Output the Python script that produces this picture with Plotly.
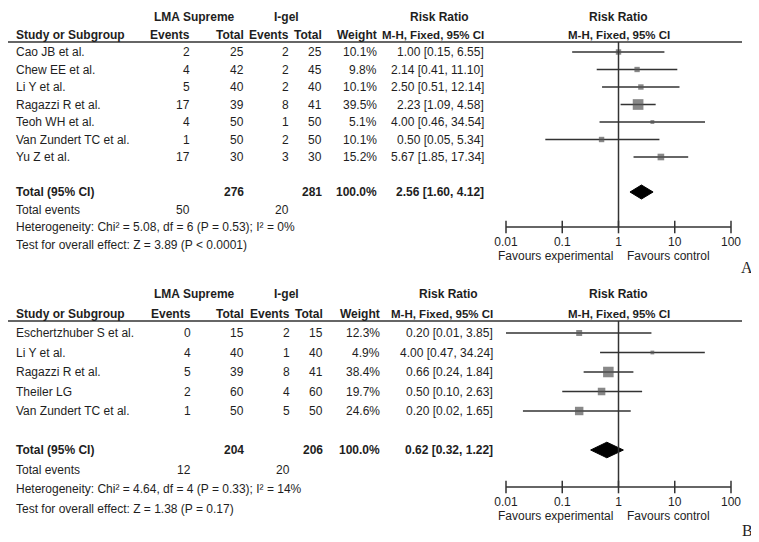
import plotly.graph_objects as go

W, H = 759, 542
OFF = 8  # the page body adds an 8px margin around the figure

TEXT = "#1e1e1e"
LINE = "#333333"
BOX = "#555555"
FONT = "Liberation Sans, Arial, sans-serif"

# ---- panel A data ----
a_studies = ["Cao JB et al.", "Chew EE et al.", "Li Y et al.", "Ragazzi R et al.",
             "Teoh WH et al.", "Van Zundert TC et al.", "Yu Z et al."]
a_lma_events = [2, 4, 5, 17, 4, 1, 17]
a_lma_total = [25, 42, 40, 39, 50, 50, 30]
a_igel_events = [2, 2, 2, 8, 1, 2, 3]
a_igel_total = [25, 45, 40, 41, 50, 50, 30]
a_weight = [10.1, 9.8, 10.1, 39.5, 5.1, 10.1, 15.2]
a_rr = [1.00, 2.14, 2.50, 2.23, 4.00, 0.50, 5.67]
a_lo = [0.15, 0.41, 0.51, 1.09, 0.46, 0.05, 1.85]
a_hi = [6.55, 11.10, 12.14, 4.58, 34.54, 5.34, 17.34]
a_sum_n = [276, 281]
a_sum_events = [50, 20]
a_sum_weight = 100.0
a_pooled = [2.56, 1.60, 4.12]
a_het = "Heterogeneity: Chi² = 5.08, df = 6 (P = 0.53); I² = 0%"
a_test = "Test for overall effect: Z = 3.89 (P < 0.0001)"

# ---- panel B data ----
b_studies = ["Eschertzhuber S et al.", "Li Y et al.", "Ragazzi R et al.",
             "Theiler LG", "Van Zundert TC et al."]
b_lma_events = [0, 4, 5, 2, 1]
b_lma_total = [15, 40, 39, 60, 50]
b_igel_events = [2, 1, 8, 4, 5]
b_igel_total = [15, 40, 41, 60, 50]
b_weight = [12.3, 4.9, 38.4, 19.7, 24.6]
b_rr = [0.20, 4.00, 0.66, 0.50, 0.20]
b_lo = [0.01, 0.47, 0.24, 0.10, 0.02]
b_hi = [3.85, 34.24, 1.84, 2.63, 1.65]
b_sum_n = [204, 206]
b_sum_events = [12, 20]
b_sum_weight = 100.0
b_pooled = [0.62, 0.32, 1.22]
b_het = "Heterogeneity: Chi² = 4.64, df = 4 (P = 0.33); I² = 14%"
b_test = "Test for overall effect: Z = 1.38 (P = 0.17)"

tick_vals = [0.01, 0.1, 1, 10, 100]
tick_text = ["0.01", "0.1", "1", "10", "100"]

fig = go.Figure()


def note(text, x, y, yref, anchor="left", bold=False, xref="paper", size=12, family=FONT, xshift=0):
    if bold:
        text = f"<b>{text}</b>"
    if xref == "paper":
        x = (x - OFF) / W
    fig.add_annotation(text=text, x=x, y=y, xref=xref, yref=yref, xanchor=anchor,
                       yanchor="middle", showarrow=False, xshift=xshift,
                       font=dict(family=family, size=size, color=TEXT))


def panel(yname, top, step, studies, le, ln, ie, inn, weight, rr, lo, hi,
          sum_n, sum_ev, sum_w, pooled, het, test, letter, cols):
    yref = yname
    n = len(studies)
    rows = list(range(n))
    tot_row = n + 1
    axis_row = tot_row + 2 + cols["axis"] / step
    xa = "x"
    ya = yname

    # headers
    note("LMA Supreme", cols["lma_c"], -2, yref, "center", True)
    note("I-gel", cols["igel_c"], -2, yref, "center", True)
    note("Risk Ratio", cols["rr"] - 47, -2, yref, "center", True)
    note("Risk Ratio", 0, -2, yref, "center", True, xref="x")
    note("Study or Subgroup", 14, -1, yref, "left", True)
    note("Events", cols["le"], -1, yref, "right", True)
    note("Total", cols["ln"], -1, yref, "right", True)
    note("Events", cols["ie"], -1, yref, "right", True)
    note("Total", cols["in"], -1, yref, "right", True)
    note("Weight", cols["w"], -1, yref, "right", True)
    note("M-H, Fixed, 95% CI", cols["rr"], -1, yref, "right", True, size=11.5)
    note("M-H, Fixed, 95% CI", 0, -1, yref, "center", True, xref="x", size=11.5)

    line_y = -1 + 7.5 / step
    fig.add_shape(type="line", xref="paper", yref=yref, x0=(5 - OFF) / W, x1=(742 - OFF) / W,
                  y0=line_y, y1=line_y, line=dict(color=LINE, width=1.5))

    for i in rows:
        note(studies[i], 14, i, yref)
        note(str(le[i]), cols["le"], i, yref, "right")
        note(str(ln[i]), cols["ln"], i, yref, "right")
        note(str(ie[i]), cols["ie"], i, yref, "right")
        note(str(inn[i]), cols["in"], i, yref, "right")
        note(f"{weight[i]:.1f}%", cols["w"], i, yref, "right")
        note(f"{rr[i]:.2f} [{lo[i]:.2f}, {hi[i]:.2f}]", cols["rr"], i, yref, "right")

    note("Total (95% CI)", 14, tot_row, yref, "left", True)
    note(str(sum_n[0]), cols["ln"], tot_row, yref, "right", True)
    note(str(sum_n[1]), cols["in"], tot_row, yref, "right", True)
    note(f"{sum_w:.1f}%", cols["w"], tot_row, yref, "right", True)
    note(f"{pooled[0]:.2f} [{pooled[1]:.2f}, {pooled[2]:.2f}]", cols["rr"], tot_row, yref, "right", True)
    note("Total events", 14, tot_row + 1, yref)
    note(str(sum_ev[0]), cols["le"], tot_row + 1, yref, "right")
    note(str(sum_ev[1]), cols["ie"], tot_row + 1, yref, "right")
    note(het, 14, tot_row + 2, yref)
    note(test, 14, tot_row + 3, yref)

    # CI lines
    cx, cy = [], []
    for i in rows:
        cx += [lo[i], hi[i], None]
        cy += [i, i, None]
    fig.add_trace(go.Scatter(x=cx, y=cy, mode="lines", xaxis=xa, yaxis=ya,
                             line=dict(color=LINE, width=1.5), hoverinfo="skip"))
    fig.add_trace(go.Scatter(x=rr, y=rows, mode="markers", xaxis=xa, yaxis=ya, cliponaxis=False,
                             marker=dict(symbol="square", color=BOX,
                                         size=[1.7 * w ** 0.5 for w in weight],
                                         line=dict(width=0))))
    # pooled diamond
    h = 0.4
    fig.add_trace(go.Scatter(x=[pooled[1], pooled[0], pooled[2], pooled[0], pooled[1]],
                             y=[tot_row, tot_row - h, tot_row, tot_row + h, tot_row],
                             mode="lines", fill="toself", fillcolor="black", xaxis=xa, yaxis=ya,
                             line=dict(color="black", width=1)))
    # line of no effect
    fig.add_trace(go.Scatter(x=[1, 1], y=[line_y, axis_row], mode="lines", xaxis=xa, yaxis=ya,
                             line=dict(color=LINE, width=1.5)))
    # bottom axis
    fig.add_trace(go.Scatter(x=[tick_vals[0], tick_vals[-1]], y=[axis_row, axis_row], mode="lines",
                             xaxis=xa, yaxis=ya, line=dict(color=LINE, width=1.5)))
    fig.add_trace(go.Scatter(x=tick_vals, y=[axis_row] * len(tick_vals), mode="markers",
                             xaxis=xa, yaxis=ya, cliponaxis=False,
                             marker=dict(symbol="line-ns", size=9, line=dict(width=1.5, color=LINE))))
    fig.add_trace(go.Scatter(x=tick_vals, y=[axis_row + 16 / step] * len(tick_vals), mode="text",
                             text=tick_text, xaxis=xa, yaxis=ya, cliponaxis=False,
                             textfont=dict(family=FONT, size=12, color=TEXT)))
    note("Favours experimental", 0, axis_row + 29 / step, yref, "right", xref="x", xshift=-4)
    note("Favours control", 0, axis_row + 29 / step, yref, "left", xref="x", xshift=6)
    note(letter, 747, axis_row + cols["letter"] / step, yref, "center",
         family="Liberation Serif, Times New Roman, serif", size=16)

    t = top - OFF
    return [(H - t) / step, -t / step]


ra = panel("y", 52, 17.5, a_studies, a_lma_events, a_lma_total, a_igel_events, a_igel_total,
           a_weight, a_rr, a_lo, a_hi, a_sum_n, a_sum_events, a_sum_weight, a_pooled, a_het, a_test, "A",
           dict(lma_c=194, igel_c=286, le=192, ln=246, ie=291, **{"in": 324}, w=379, rr=486,
                letter=40, axis=0))
rb = panel("y2", 333, 19.5, b_studies, b_lma_events, b_lma_total, b_igel_events, b_igel_total,
           b_weight, b_rr, b_lo, b_hi, b_sum_n, b_sum_events, b_sum_weight, b_pooled, b_het, b_test, "B",
           dict(lma_c=194, igel_c=286, le=193, ln=246, ie=292, **{"in": 325}, w=382, rr=495,
                letter=43, axis=-2))

fig.update_layout(
    width=W, height=H,
    margin=dict(l=0, r=0, t=0, b=0),
    paper_bgcolor="white", plot_bgcolor="white",
    showlegend=False,
    xaxis=dict(type="log", range=[-2, 2], domain=[(506 - OFF) / W, (731 - OFF) / W],
               visible=False, fixedrange=True),
    yaxis=dict(range=ra, domain=[0, 1], visible=False, fixedrange=True),
    yaxis2=dict(range=rb, domain=[0, 1], overlaying="y", visible=False, fixedrange=True),
)

fig.write_html("out.html")
